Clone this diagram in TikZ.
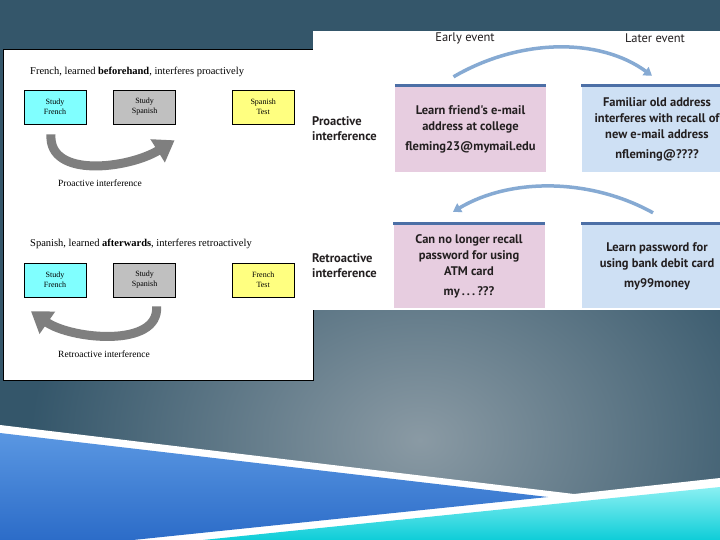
\documentclass[tikz,border=0pt]{standalone}
\usepackage{fontspec}
\setmainfont{Liberation Serif}
\newfontfamily\slidesans{PT Sans}
\usepackage{xcolor}
\definecolor{slideDark}{HTML}{34566A}
\definecolor{slideLight}{HTML}{8A9AA4}
\definecolor{swoopBlueTop}{HTML}{5A97E2}
\definecolor{swoopBlueMid}{HTML}{9FCAF4}
\definecolor{swoopBlueLow}{HTML}{2C6CC8}
\definecolor{swoopCyan}{HTML}{0ECDD8}
\definecolor{swoopCyanHi}{HTML}{8AF0F2}
\definecolor{studyCyan}{HTML}{80FFFF}
\definecolor{studyGray}{HTML}{C0C0C0}
\definecolor{testYellow}{HTML}{FFFF80}
\definecolor{curveGray}{HTML}{7F7F7F}
\definecolor{eventPink}{HTML}{E7CDE0}
\definecolor{eventBlue}{HTML}{CEE0F4}
\definecolor{eventBand}{HTML}{4C6FA6}
\definecolor{eventArrow}{HTML}{86AAD3}
\definecolor{eventInk}{HTML}{231F20}
\usetikzlibrary{positioning, arrows.meta}

\begin{document}
\begin{tikzpicture}[
  x=1pt, y=-1pt,
  studybox/.style = {draw=black, line width=0.6pt, minimum width=62pt,
                     minimum height=34pt, inner sep=0pt, align=center,
                     font=\fontsize{8}{10}\selectfont},
  caption/.style  = {anchor=west, inner sep=0pt, font=\fontsize{9.5}{11}\selectfont},
  bigarrow/.style = {draw=curveGray, line width=9pt,
                     -{Triangle[length=20pt, width=26pt]}},
  eventbox/.style = {minimum width=151pt, inner sep=0pt, align=center,
                     text=eventInk, font=\slidesans\bfseries\fontsize{12.5}{16}\selectfont},
  band/.style     = {draw=eventBand, line width=2.8pt},
  eventarrow/.style = {draw=eventArrow, line width=3.5pt,
                       -{Triangle[length=8pt, width=10pt]}},
  rowlabel/.style = {anchor=west, align=left, inner sep=0pt, text=eventInk,
                     font=\slidesans\bfseries\fontsize{12.5}{15}\selectfont},
  header/.style   = {text=eventInk, font=\slidesans\fontsize{12.5}{14}\selectfont},
]
\useasboundingbox (0,0) rectangle (720,540);
\clip (0,0) rectangle (720,540);

% Slide background
\fill[slideDark] (0,0) rectangle (720,540);
\shade[inner color=slideLight, outer color=slideDark] (420,440) ellipse (390 and 300);
\fill[white] (0,425) -- (574,494) -- (720,478) -- (720,540) -- (0,540) -- cycle;
\shade[top color=swoopBlueTop, middle color=swoopBlueMid, bottom color=swoopBlueLow]
  (0,433) -- (548,497) -- (133,540) -- (0,540) -- cycle;
\shade[top color=swoopCyanHi, bottom color=swoopCyan]
  (203,540) -- (720,487) -- (720,540) -- cycle;

% Left panel
\filldraw[fill=white, draw=black, line width=0.8pt] (3,49) rectangle (313,380);

\node[caption, font=\fontsize{10.5}{12}\selectfont] (proTitle) at (30,72)
  {French, learned \textbf{beforehand}, interferes proactively};
\node[studybox, fill=studyCyan] (proFr) at (55,107) {Study\\French};
\node[studybox, fill=studyGray, right=27pt of proFr] (proSp) {Study\\Spanish};
\node[studybox, fill=testYellow, right=56pt of proSp] (proTest) {Spanish\\Test};
\node[caption] (proCap) at (58,183) {Proactive interference};

\node[caption, font=\fontsize{10.5}{12}\selectfont] (reTitle) at (30,244)
  {Spanish, learned \textbf{afterwards}, interferes retroactively};
\node[studybox, fill=studyCyan] (reFr) at (55,280) {Study\\French};
\node[studybox, fill=studyGray, right=27pt of reFr] (reSp) {Study\\Spanish};
\node[studybox, fill=testYellow, right=56pt of reSp] (reTest) {French\\Test};
\node[caption] (reCap) at (58,354) {Retroactive interference};

\coordinate (proTail) at ([xshift=-4pt, yshift=-10pt]proFr.south);
\coordinate (proTip) at ([xshift=30pt, yshift=-16pt]proSp.south);
\coordinate (reTail) at ([xshift=12pt, yshift=-9pt]reSp.south);
\coordinate (reTip) at ([xshift=-24pt, yshift=-14pt]reFr.south);
\draw[bigarrow] (proTail) .. controls +(-3,45) and +(-45,28) .. (proTip);
\draw[bigarrow] (reTail) .. controls +(3,42) and +(40,28) .. (reTip);

% Right panel
\fill[white] (313,31) rectangle (720,310);

\node[header] (early) at (465,38) {Early event};
\node[header] (later) at (655,38) {Later event};

\node[rowlabel] (proLabel) at (312,129) {Proactive\\interference};
\node[rowlabel] (reLabel) at (312,266) {Retroactive\\interference};

\node[eventbox, fill=eventPink, minimum height=86pt] (learnMail) at (470.5,129)
  {Learn friend's e-mail\\address at college\\[4pt]fleming23@mymail.edu};
\node[eventbox, fill=eventBlue, minimum height=86pt] (oldMail) at (657,129)
  {Familiar old address\\interferes with recall of\\new e-mail address\\[4pt]nfleming@????};
\node[eventbox, fill=eventPink, minimum height=84pt] (forgetPin) at (469,266)
  {Can no longer recall\\password for using\\ATM card\\[4pt]my\,.\,.\,.\,???};
\node[eventbox, fill=eventBlue, minimum height=84pt] (learnPin) at (657,266)
  {Learn password for\\using bank debit card\\[4pt]my99money};

\draw[band] (learnMail.north west) -- (learnMail.north east);
\draw[band] (oldMail.north west) -- (oldMail.north east);
\draw[band] (forgetPin.north west) -- (forgetPin.north east);
\draw[band] (learnPin.north west) -- (learnPin.north east);

\draw[eventarrow] ([xshift=-17pt, yshift=9pt]learnMail.north)
  .. controls +(67,-39) and +(-52,-38) .. ([xshift=-5pt, yshift=10pt]oldMail.north);
\draw[eventarrow] ([xshift=-4pt, yshift=11pt]learnPin.north)
  .. controls +(-63,-35) and +(57,-34) .. ([xshift=-16pt, yshift=12pt]forgetPin.north);

\end{tikzpicture}
\end{document}
